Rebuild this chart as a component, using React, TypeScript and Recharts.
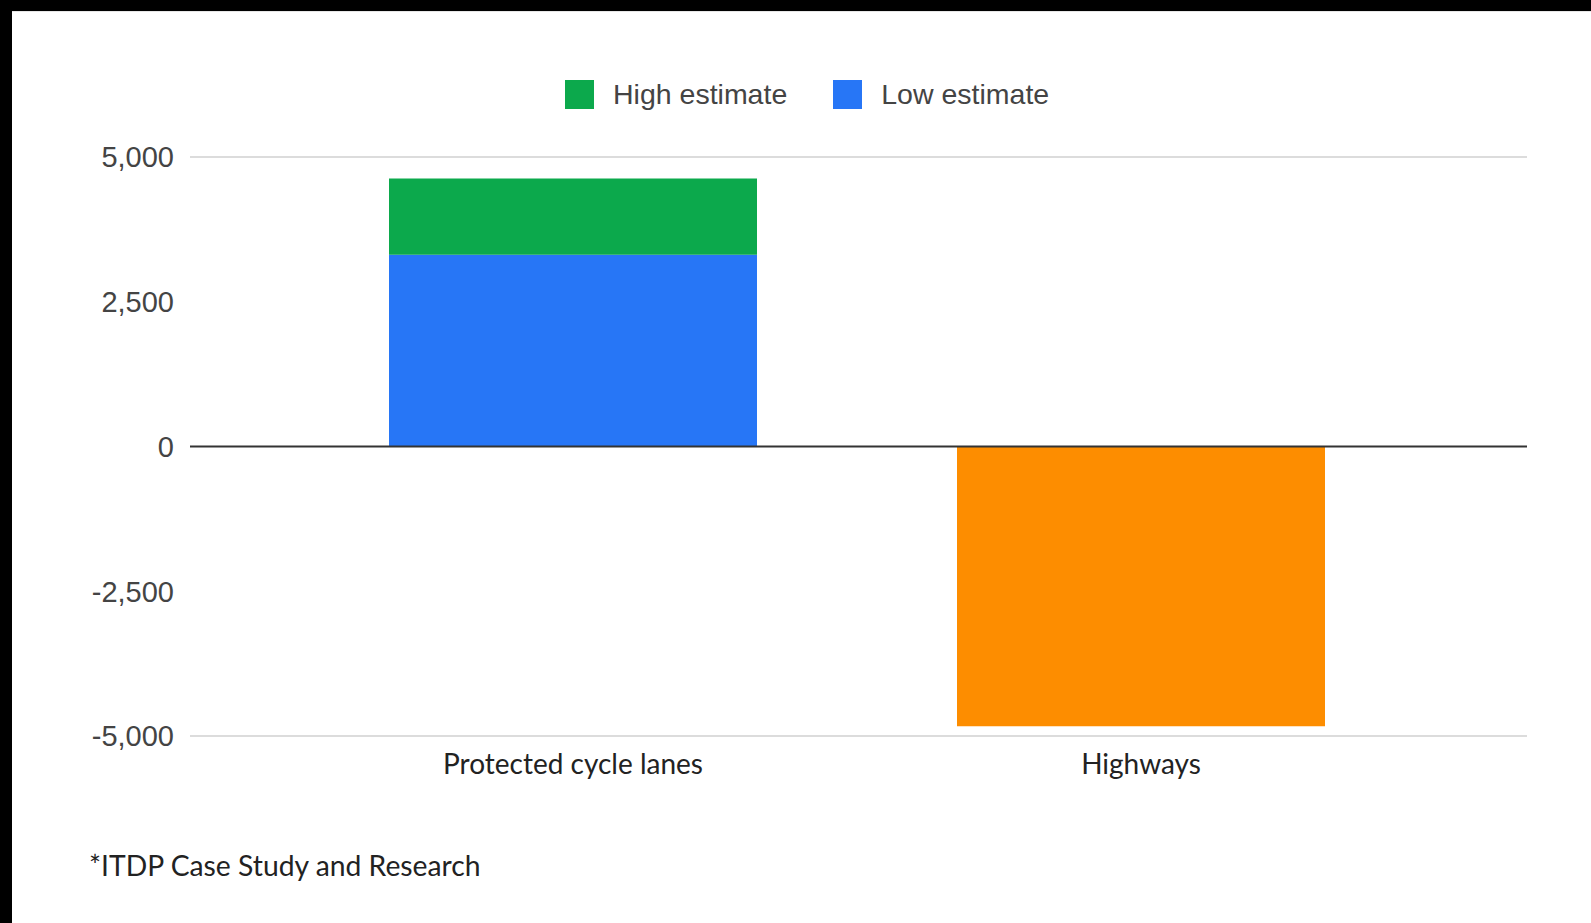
import React from 'react';
import { BarChart, Bar, XAxis, YAxis, Cell, ReferenceLine } from 'recharts';

const categories = ['Protected cycle lanes', 'Highways'];
const lowEstimate = [3310, -4830];
const highEstimate = [1320, 0];
const yTicks = [5000, 2500, 0, -2500, -5000];

const GREEN = '#0ca94c';
const BLUE = '#2776f6';
const ORANGE = '#fd8d00';

const data = categories.map((name, i) => ({
  name,
  low: lowEstimate[i],
  high: highEstimate[i],
}));

const sansFont = '"Liberation Sans", Arial, sans-serif';
const labelFont = 'Lato, "Open Sans", sans-serif';

const LegendItem = ({ color, label, gap }: { color: string; label: string; gap: number }) => (
  <div style={{ display: 'flex', alignItems: 'center', marginRight: gap }}>
    <div style={{ width: 29, height: 29, background: color, marginRight: 19 }} />
    <span style={{ fontFamily: sansFont, fontSize: 28.5, color: '#444' }}>{label}</span>
  </div>
);

export default function App() {
  return (
    <div style={{ position: 'absolute', left: 0, top: 0, width: 1591, height: 923, background: '#fff', overflow: 'hidden' }}>
      {/* dark frame on top and left */}
      <div style={{ position: 'absolute', left: 0, top: 0, width: 1591, height: 11, background: '#000' }} />
      <div style={{ position: 'absolute', left: 0, top: 0, width: 12, height: 923, background: '#000' }} />
      <div style={{ position: 'absolute', left: 12, top: 11, width: 1579, height: 1, background: '#e6e6e6' }} />

      <div style={{ position: 'absolute', left: 0, top: 0 }}>
        <BarChart width={1591} height={923} data={data} margin={{ top: 157, right: 64, left: 0, bottom: 127 }}>
          <ReferenceLine y={5000} stroke="#dcdcdc" strokeWidth={2} />
          <ReferenceLine y={-5000} stroke="#dcdcdc" strokeWidth={2} />
          <XAxis
            dataKey="name"
            height={60}
            axisLine={false}
            tickLine={false}
            tickSize={0}
            tickMargin={18}
            padding={{ left: 99, right: 102 }}
            tick={{ fontFamily: labelFont, fontSize: 28, fill: '#222' }}
          />
          <YAxis
            width={190}
            domain={[-5000, 5000]}
            ticks={yTicks}
            interval={0}
            axisLine={false}
            tickLine={false}
            tickSize={0}
            tickMargin={16}
            tickFormatter={(v: number) => v.toLocaleString('en-US')}
            tick={{ fontFamily: sansFont, fontSize: 29, fill: '#444' }}
          />
          <Bar dataKey="low" stackId="a" barSize={368} fill={BLUE} isAnimationActive={false}>
            {data.map((d, i) => (
              <Cell key={d.name} fill={i === 1 ? ORANGE : BLUE} />
            ))}
          </Bar>
          <Bar dataKey="high" stackId="a" barSize={368} fill={GREEN} isAnimationActive={false} />
          <ReferenceLine y={0} stroke="#333" strokeWidth={2} />
        </BarChart>
      </div>

      <div style={{ position: 'absolute', left: 565, top: 78, display: 'flex' }}>
        <LegendItem color={GREEN} label="High estimate" gap={46} />
        <LegendItem color={BLUE} label="Low estimate" gap={0} />
      </div>

      <div style={{ position: 'absolute', left: 89, top: 851, fontFamily: labelFont, fontSize: 28.3, color: '#222', lineHeight: 1 }}>
        *ITDP Case Study and Research
      </div>
    </div>
  );
}
